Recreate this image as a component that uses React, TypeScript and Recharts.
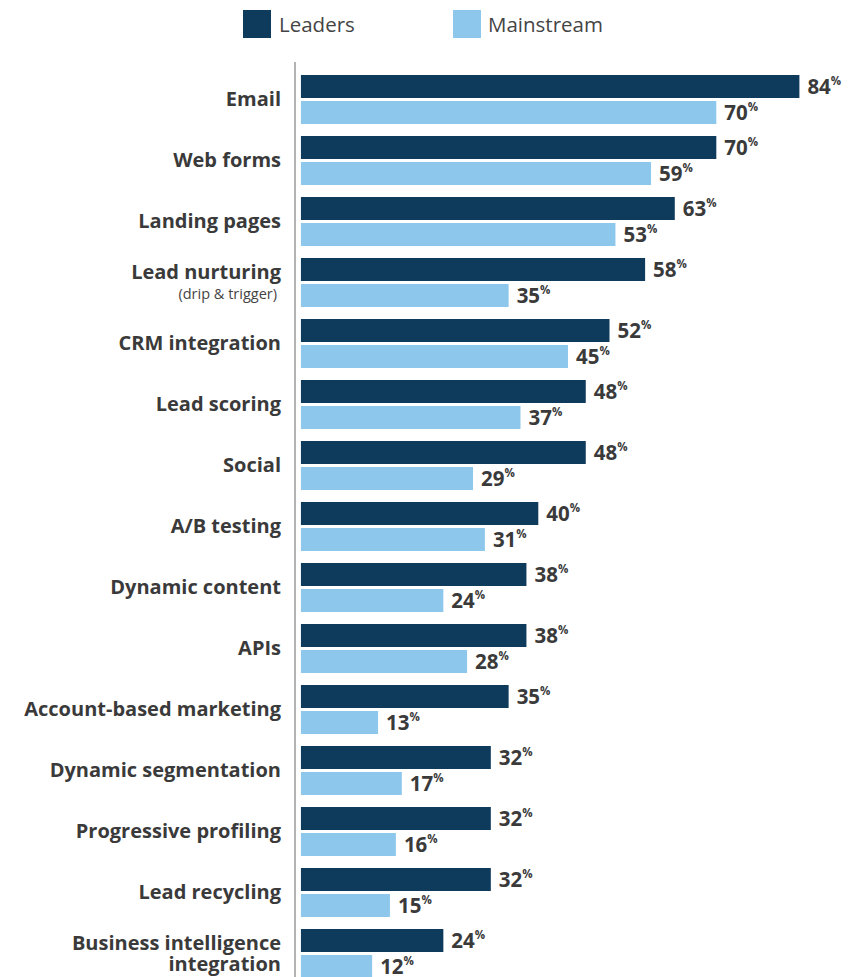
import React from "react";
import { BarChart, Bar, XAxis, YAxis, LabelList, Legend } from "recharts";

const categories = [
  "Email",
  "Web forms",
  "Landing pages",
  "Lead nurturing",
  "CRM integration",
  "Lead scoring",
  "Social",
  "A/B testing",
  "Dynamic content",
  "APIs",
  "Account-based marketing",
  "Dynamic segmentation",
  "Progressive profiling",
  "Lead recycling",
  "Business intelligence\nintegration",
];
const subLabels: Record<string, string> = {
  "Lead nurturing": "(drip & trigger)",
};
const leaders = [84, 70, 63, 58, 52, 48, 48, 40, 38, 38, 35, 32, 32, 32, 24];
const mainstream = [70, 59, 53, 35, 45, 37, 29, 31, 24, 28, 13, 17, 16, 15, 12];
const seriesNames = ["Leaders", "Mainstream"];

const DARK = "#0e3a5c";
const LIGHT = "#8dc8ec";
const TEXT = "#3a3a3a";
const FONT = "'Open Sans', sans-serif";

const data = categories.map((name, i) => ({
  name,
  leaders: leaders[i],
  mainstream: mainstream[i],
}));

const CategoryTick = (props: any) => {
  const { x, y, payload } = props;
  const name: string = payload.value;
  const lines = name.split("\n");
  const sub = subLabels[name];
  const common = {
    textAnchor: "end" as const,
    fill: TEXT,
    fontFamily: FONT,
    dominantBaseline: "central" as const,
  };
  if (sub) {
    return (
      <text x={x} y={y - 12} {...common} fontSize={20} fontWeight={700}>
        <tspan x={x}>{lines[0]}</tspan>
        <tspan x={x} dx={-4} dy={22} fontSize={14.5} fontWeight={400} fill="#444">
          {sub}
        </tspan>
      </text>
    );
  }
  if (lines.length > 1) {
    return (
      <text x={x} y={y - 12} {...common} fontSize={20} fontWeight={700}>
        {lines.map((l, k) => (
          <tspan key={k} x={x} dy={k === 0 ? 0 : 21}>
            {l}
          </tspan>
        ))}
      </text>
    );
  }
  return (
    <text x={x} y={y - 1.5} {...common} fontSize={20} fontWeight={700}>
      {name}
    </text>
  );
};

const ValueLabel = (props: any) => {
  const { x, y, width, height, value } = props;
  return (
    <text
      x={x + width + 8}
      y={y + height / 2 + 7.5}
      fill={TEXT}
      fontFamily={FONT}
      fontWeight={700}
      fontSize={20.5}
    >
      <tspan>{value}</tspan>
      <tspan fontSize={11.5} dy={-9}>
        %
      </tspan>
    </text>
  );
};

const LegendContent = () => (
  <div
    style={{
      height: 62,
      boxSizing: "border-box",
      fontFamily: FONT,
      fontSize: 20.5,
      color: "#444",
      position: "relative",
    }}
  >
    <div style={{ display: "flex", alignItems: "center", position: "absolute", left: 243, top: 10 }}>
      <span style={{ width: 28, height: 28, background: DARK, display: "inline-block" }} />
      <span style={{ marginLeft: 8, lineHeight: "28px" }}>{seriesNames[0]}</span>
    </div>
    <div style={{ display: "flex", alignItems: "center", position: "absolute", left: 453, top: 10 }}>
      <span style={{ width: 28, height: 28, background: LIGHT, display: "inline-block" }} />
      <span style={{ marginLeft: 7, lineHeight: "28px" }}>{seriesNames[1]}</span>
    </div>
  </div>
);

export default function App() {
  return (
    <div style={{ position: "absolute", left: 0, top: 0, width: 857, height: 977, overflow: "hidden", background: "#fff" }}>
      <BarChart
        width={857}
        height={984}
        data={data}
        layout="vertical"
        margin={{ top: 0, right: 22, bottom: 0, left: 0 }}
        barSize={23}
        barGap={3}
      >
        <Legend
          verticalAlign="top"
          align="left"
          content={<LegendContent />}
          wrapperStyle={{ left: 0, top: 0, width: 857, height: 62 }}
        />
        <XAxis type="number" domain={[-1, 90]} hide allowDataOverflow />
        <YAxis
          type="category"
          dataKey="name"
          width={295}
          tickLine={false}
          tickMargin={8}
          axisLine={{ stroke: "#9a9a9a", strokeWidth: 1.5 }}
          tick={<CategoryTick />}
          interval={0}
          padding={{ top: 7, bottom: 0 }}
        />
        <Bar dataKey="leaders" name={seriesNames[0]} fill={DARK} isAnimationActive={false}>
          <LabelList dataKey="leaders" content={<ValueLabel />} />
        </Bar>
        <Bar dataKey="mainstream" name={seriesNames[1]} fill={LIGHT} isAnimationActive={false}>
          <LabelList dataKey="mainstream" content={<ValueLabel />} />
        </Bar>
      </BarChart>
    </div>
  );
}
